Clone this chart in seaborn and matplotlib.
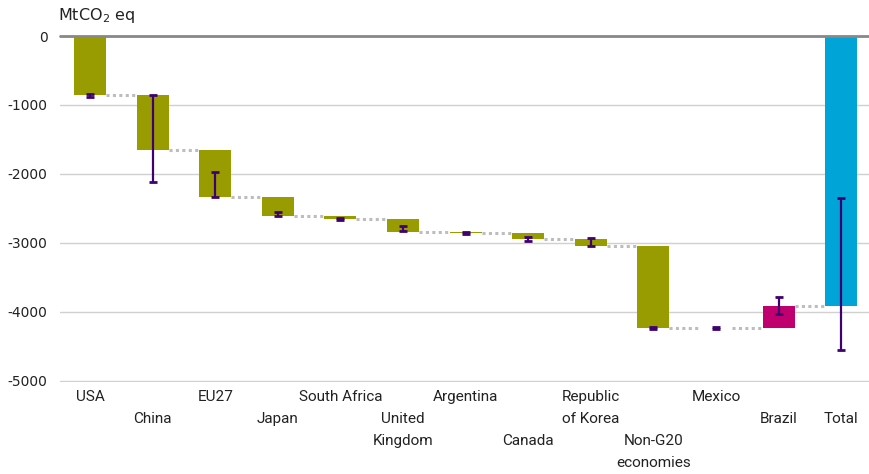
import numpy as np
import pandas as pd
import seaborn as sns
import matplotlib.pyplot as plt

# Data (MtCO2 eq)
countries = ['USA', 'China', 'EU27', 'Japan', 'South Africa', 'United Kingdom',
             'Argentina', 'Canada', 'Republic of Korea', 'Non-G20 economies',
             'Mexico', 'Brazil', 'Total']
tick_labels = ['USA', '\nChina', 'EU27', '\nJapan', 'South Africa', '\nUnited\nKingdom',
               'Argentina', '\n\nCanada', 'Republic\nof Korea', '\n\nNon-G20\neconomies',
               'Mexico', '\nBrazil', '\nTotal']
changes = [-850, -800, -680, -280, -45, -180, -15, -90, -100, -1200, 12, 313]
err_low = [-880, -2115, -2330, -2610, -2665, -2830, -2865, -2965, -3050, -4255, -4242, -4030, -4550]
err_high = [-835, -850, -1970, -2550, -2635, -2760, -2835, -2915, -2930, -4220, -4225, -3790, -2355]

# waterfall geometry
ends = np.cumsum(changes)
starts = np.concatenate([[0], ends[:-1]])
total = ends[-1]
starts = np.append(starts, 0)
ends = np.append(ends, total)
heights = ends - starts
colors = ['#989C00' if h < 0 else '#C1006F' for h in changes] + ['#00A4D7']

df = pd.DataFrame({'country': countries, 'height': heights})

sns.set_style('white')
plt.rcParams['font.family'] = ['DejaVu Sans']
plt.rcParams['axes.unicode_minus'] = False

fig = plt.figure(figsize=(8.7, 4.74), dpi=100)
ax = fig.add_axes([0.069, 0.195, 0.931, 0.729])

w = 0.51
sns.barplot(data=df, x='country', y='height', order=countries, bottom=starts,
            color=colors[0], facecolor=colors, edgecolor='none', linewidth=0,
            width=w, errorbar=None, ax=ax, zorder=3)

idx = np.arange(len(countries))

# connectors
ax.hlines(ends[:-1], idx[:-1] + w / 2, idx[1:] - w / 2, colors='#BDBDBD',
          linestyles=(0, (1, 1.1)), linewidth=2.2, zorder=2)

# uncertainty ranges
lo = np.array(err_low)
hi = np.array(err_high)
ax.errorbar(idx, lo, yerr=[np.zeros_like(lo), hi - lo], fmt='none',
            ecolor='#400070', elinewidth=1.6, capsize=2.9, capthick=2, zorder=4)

ax.set_ylim(-5010, 0)
ax.set_xlim(-0.48, 12.46)
ax.set_yticks([0, -1000, -2000, -3000, -4000, -5000])
ax.yaxis.grid(True, color='#D0D0D0', linewidth=1)
ax.axhline(0, color='#888888', linewidth=2, clip_on=False, zorder=5)
for s in ax.spines.values():
    s.set_visible(False)

ax.set_xlabel('')
ax.set_ylabel('')
ax.set_xticks(idx)
ax.set_xticklabels(tick_labels, family=['Roboto', 'DejaVu Sans'],
                   fontsize=11, linespacing=1.72, color='#222222')
ax.tick_params(axis='x', length=0, pad=6)
ax.tick_params(axis='y', length=0, pad=9, labelsize=10, labelcolor='#222222')

fig.text(0.067, 0.967, 'MtCO$_2$ eq', fontsize=11.5, color='#222222', va='center')

fig.savefig('out.png', dpi=100)
